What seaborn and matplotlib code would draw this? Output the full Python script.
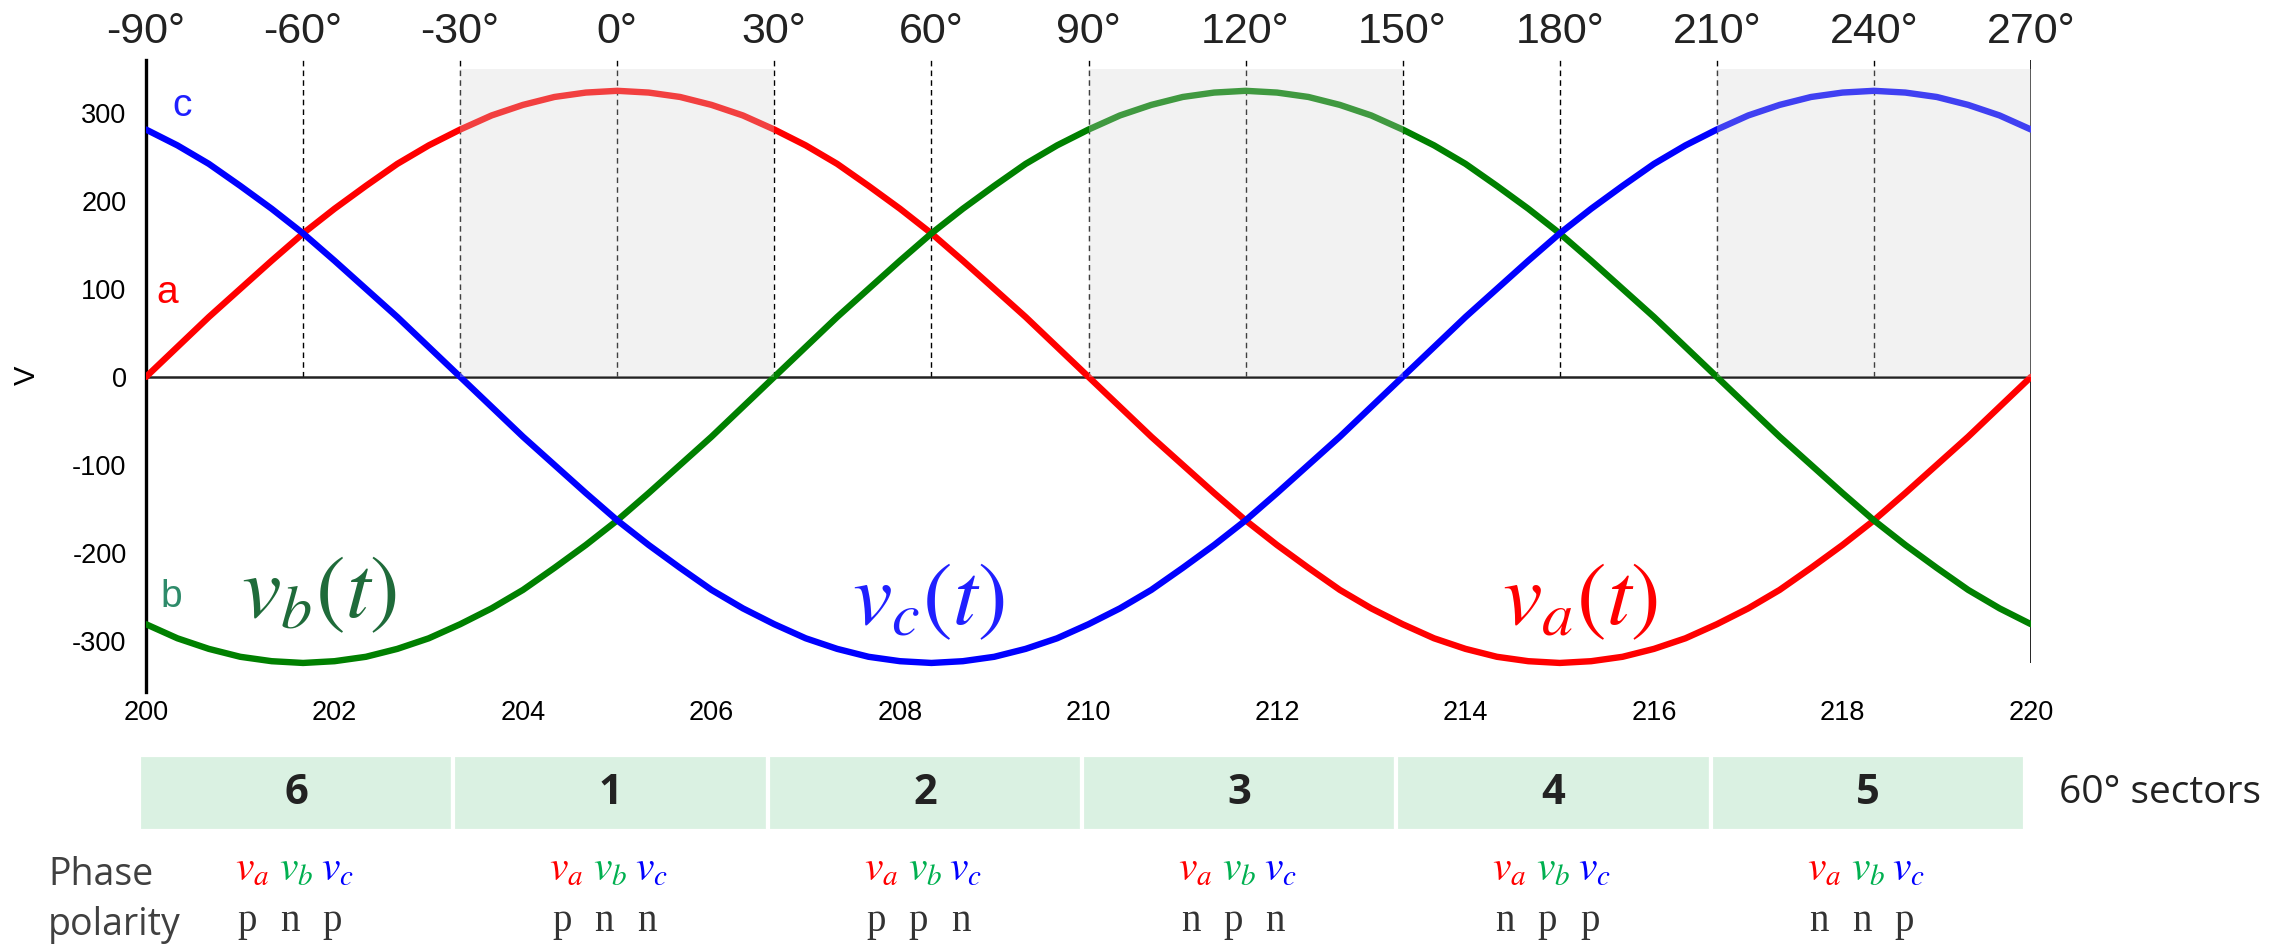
import numpy as np
import pandas as pd
import matplotlib.pyplot as plt
import seaborn as sns

# phase angle (deg, top axis) of each sample and the three phase voltages (V)
angle_deg = [-90, -84, -78, -72, -66, -60, -54, -48, -42, -36,
             -30, -24, -18, -12, -6, 0, 6, 12, 18, 24,
             30, 36, 42, 48, 54, 60, 66, 72, 78, 84,
             90, 96, 102, 108, 114, 120, 126, 132, 138, 144,
             150, 156, 162, 168, 174, 180, 186, 192, 198, 204,
             210, 216, 222, 228, 234, 240, 246, 252, 258, 264,
             270]
va = [0, 34, 68, 100, 132, 163, 191, 217, 242, 263,
      281, 297, 309, 318, 323, 325, 323, 318, 309, 297,
      281, 263, 242, 217, 191, 163, 132, 100, 68, 34,
      0, -34, -68, -100, -132, -163, -191, -217, -242, -263,
      -281, -297, -309, -318, -323, -325, -323, -318, -309, -297,
      -281, -263, -242, -217, -191, -163, -132, -100, -68, -34,
      0]
vb = [-281, -297, -309, -318, -323, -325, -323, -318, -309, -297,
      -281, -263, -242, -217, -191, -163, -132, -100, -68, -34,
      0, 34, 68, 100, 132, 163, 191, 217, 242, 263,
      281, 297, 309, 318, 323, 325, 323, 318, 309, 297,
      281, 263, 242, 217, 191, 163, 132, 100, 68, 34,
      0, -34, -68, -100, -132, -163, -191, -217, -242, -263,
      -281]
vc = [281, 263, 242, 217, 191, 163, 132, 100, 68, 34,
      0, -34, -68, -100, -132, -163, -191, -217, -242, -263,
      -281, -297, -309, -318, -323, -325, -323, -318, -309, -297,
      -281, -263, -242, -217, -191, -163, -132, -100, -68, -34,
      0, 34, 68, 100, 132, 163, 191, 217, 242, 263,
      281, 297, 309, 318, 323, 325, 323, 318, 309, 297,
      281]

x_ticks = [200, 202, 204, 206, 208, 210, 212, 214, 216, 218, 220]
y_ticks = [-300, -200, -100, 0, 100, 200, 300]
deg_ticks = [-90, -60, -30, 0, 30, 60, 90, 120, 150, 180, 210, 240, 270]
guide_deg = [-60, -30, 0, 30, 60, 90, 120, 150, 180, 210, 240]
shade_deg = [(-30, 30), (90, 150), (210, 270)]

sector_labels = ['6', '1', '2', '3', '4', '5']
polarity = [['p', 'n', 'p'], ['p', 'n', 'n'], ['p', 'p', 'n'],
            ['n', 'p', 'n'], ['n', 'p', 'p'], ['n', 'n', 'p']]

colors = {'a': '#ff0000', 'b': '#008000', 'c': '#0000ff'}


def ms_to_deg(t):
    return (np.asarray(t) - 200) * 18 - 90


def deg_to_ms(d):
    return 200 + (np.asarray(d) + 90) / 18


time_ms = list(deg_to_ms(angle_deg))
df = pd.DataFrame({
    'time': time_ms * 3,
    'voltage': va + vb + vc,
    'phase': ['a'] * len(va) + ['b'] * len(vb) + ['c'] * len(vc),
})

sns.set_theme(style='white')
plt.rcParams['font.family'] = ['Liberation Sans', 'DejaVu Sans']
plt.rcParams['mathtext.fontset'] = 'stix'
plt.rcParams['axes.unicode_minus'] = False

W, H = 2281, 951
fig = plt.figure(figsize=(W / 100, H / 100), dpi=100)
ax = fig.add_axes([146 / W, 1 - 692 / H, (2031 - 146) / W, (692 - 60) / H])

sns.lineplot(data=df, x='time', y='voltage', hue='phase', palette=colors,
             linewidth=4.6, legend=False, sort=False, ax=ax, zorder=4)
for ln in ax.lines:
    ln.set_solid_joinstyle('round')

ax.set_xlim(200, 220)
ax.set_ylim(-358, 360)

# guide lines, zero line, end marker
ax.vlines(deg_to_ms(guide_deg), 0, 360, colors='black', linewidth=1,
          linestyles=(0, (4, 3)), zorder=3)
ax.vlines(220, -325, 360, colors='black', linewidth=1.2, zorder=3)
ax.axhline(0, color='#222222', linewidth=1.8, zorder=3)

# grey shading drawn over the curves
for d0, d1 in shade_deg:
    ax.fill_between(deg_to_ms([d0, d1]), 0, 350, color='#d5d5d5', alpha=0.3,
                    linewidth=0, zorder=5)

for side in ['top', 'right', 'bottom']:
    ax.spines[side].set_visible(False)
ax.spines['left'].set_linewidth(2.4)
ax.spines['left'].set_color('black')

ax.set_xticks(x_ticks)
ax.set_yticks(y_ticks)
ax.tick_params(axis='x', length=0, pad=6, labelsize=19.5, labelcolor='black')
ax.tick_params(axis='y', length=0, pad=14, labelsize=19.5, labelcolor='black')
ax.set_xlabel('')
ax.set_ylabel('')
fig.text(27 / W, 1 - 375 / H, 'V', rotation=90, ha='center', va='center',
         fontsize=21, color='black')

# degree axis on top
top = ax.secondary_xaxis('top', functions=(ms_to_deg, deg_to_ms))
top.set_xticks(deg_ticks)
top.set_xticklabels([f'{d}°' for d in deg_ticks])
top.tick_params(length=0, pad=6, labelsize=31, labelcolor='#222222')
top.spines['top'].set_visible(False)

# curve labels
ax.text(200.38, 308, 'c', color='#1f1fff', fontsize=28, ha='center', va='center', zorder=6)
ax.text(200.22, 95, 'a', color='#ff0000', fontsize=28, ha='center', va='center', zorder=6)
ax.text(200.27, -250, 'b', color='#2e8b6a', fontsize=28, ha='center', va='center', zorder=6)
ax.text(201.84, -247, r'$v_b(t)$', color='#1f6b3a', fontsize=64, ha='center', va='center', zorder=6)
ax.text(208.3, -255, r'$v_c(t)$', color='#2020ff', fontsize=64, ha='center', va='center', zorder=6)
ax.text(215.22, -255, r'$v_a(t)$', color='#ff0000', fontsize=64, ha='center', va='center', zorder=6)

# sector strip
axs = fig.add_axes([139 / W, 1 - 831 / H, (2025 - 139) / W, (831 - 755) / H])
sec_df = pd.DataFrame({'sector': sector_labels, 'h': [1] * len(sector_labels)})
sns.barplot(data=sec_df, x='sector', y='h', order=sector_labels, color='#daf1e2',
            saturation=1, width=1, edgecolor='white', linewidth=3, ax=axs)
axs.set_xlim(-0.5, len(sector_labels) - 0.5)
axs.set_ylim(0, 1)
axs.axis('off')
for i, lab in enumerate(sector_labels):
    axs.text(i, 0.5, lab, ha='center', va='center', fontsize=30,
             fontweight='bold', color='#222222', family=['Open Sans', 'DejaVu Sans'])
fig.text(2059 / W, 1 - 793 / H, '60° sectors', ha='left', va='center',
         fontsize=28, color='#222222', family=['Open Sans', 'DejaVu Sans'])

# phase polarity rows
v_names = [r'$v_a$', r'$v_b$', r'$v_c$']
v_cols = ['#ff0000', '#00b050', '#0000ff']
v_off = [-0.14, 0.0, 0.13]
p_off = [-0.155, -0.02, 0.115]
for i, pol in enumerate(polarity):
    for k in range(3):
        axs.text(i + v_off[k], -0.65, v_names[k], color=v_cols[k], fontsize=30,
                 ha='center', va='baseline', clip_on=False)
        axs.text(i + p_off[k], -1.31, pol[k], color='#333333', fontsize=28,
                 ha='center', va='baseline', clip_on=False,
                 family=['Liberation Serif', 'DejaVu Serif'])

fig.text(48 / W, 1 - 885 / H, 'Phase', ha='left', va='baseline', fontsize=27,
         color='#404040', family=['Open Sans', 'DejaVu Sans'])
fig.text(48 / W, 1 - 935 / H, 'polarity', ha='left', va='baseline', fontsize=27,
         color='#404040', family=['Open Sans', 'DejaVu Sans'])

plt.savefig('out.png', dpi=100)
